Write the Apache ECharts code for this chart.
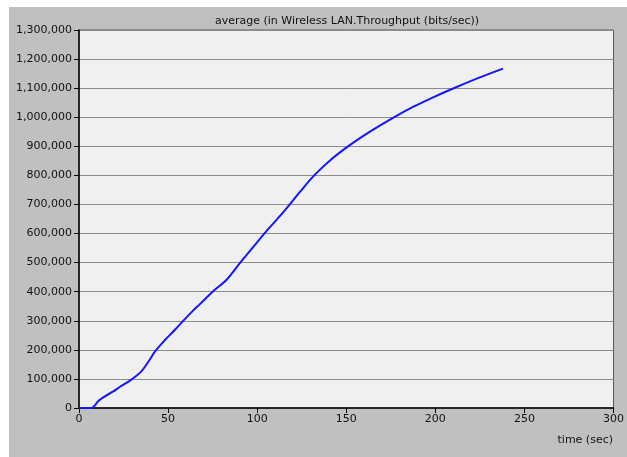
<!DOCTYPE html>
<html>
<head>
<meta charset="utf-8">
<script src="https://cdn.jsdelivr.net/npm/echarts@6/dist/echarts.min.js"></script>
<style>
  html, body { margin: 0; padding: 0; background: #ffffff; }
  #chart { width: 627px; height: 457px; }
</style>
</head>
<body>
<div id="chart"></div>
<script>
// Average wireless LAN throughput over simulated time
const timeSec = [0, 7, 11, 15, 19, 23, 29, 35, 39, 43, 48, 54, 59, 64, 68, 75, 83, 90.5, 97, 104, 111, 116, 124, 132, 142, 152, 164, 176, 188, 200, 212, 225, 238];
const throughput = [0, 0, 25000, 42000, 56000, 73000, 96000, 126000, 160000, 197000, 232000, 270000, 303000, 335000, 358000, 400000, 442000, 500000, 548000, 600000, 648000, 683000, 743000, 800000, 857000, 904000, 953000, 997000, 1037000, 1072000, 1104000, 1137000, 1167000];
const titleText = 'average (in Wireless LAN.Throughput (bits/sec))';
const xAxisTitle = 'time (sec)';

const points = timeSec.map((t, i) => [t, throughput[i]]);
const font = 'DejaVu Sans';

const chart = echarts.init(document.getElementById('chart'), null, { renderer: 'canvas' });
chart.setOption({
  animation: false,
  backgroundColor: '#ffffff',
  textStyle: { fontFamily: font },
  graphic: [
    { type: 'rect', z: -10, shape: { x: 9, y: 7, width: 618, height: 450 }, style: { fill: '#c0c0c0' } },
    { type: 'text', x: 347, y: 21, style: { text: titleText, fontFamily: font, fontSize: 11, fill: '#111', align: 'center', verticalAlign: 'middle' } },
    { type: 'text', x: 613, y: 440, style: { text: xAxisTitle, fontFamily: font, fontSize: 11, fill: '#111', align: 'right', verticalAlign: 'middle' } }
  ],
  grid: {
    left: 79, top: 30, right: 12, bottom: 49,
    show: true, backgroundColor: '#f0f0f0', borderColor: '#5a5a5a', borderWidth: 1
  },
  xAxis: {
    type: 'value', min: 0, max: 300, interval: 50,
    axisLine: { show: true, onZero: false, lineStyle: { color: '#000', width: 1.5 } },
    axisTick: { show: true, length: 5, lineStyle: { color: '#000' } },
    axisLabel: { color: '#111', fontFamily: font, fontSize: 11, margin: 6 },
    splitLine: { show: false }
  },
  yAxis: {
    type: 'value', min: 0, max: 1300000, interval: 100000,
    axisLine: { show: true, onZero: false, lineStyle: { color: '#000', width: 1.5 } },
    axisTick: { show: true, length: 5, lineStyle: { color: '#000' } },
    axisLabel: {
      color: '#111', fontFamily: font, fontSize: 11, margin: 7,
      formatter: v => v.toLocaleString('en-US')
    },
    splitLine: { show: true, lineStyle: { color: '#8c8c8c', width: 1 } }
  },
  series: [{
    type: 'line',
    data: points,
    showSymbol: false,
    smooth: 0.3,
    lineStyle: { color: '#1414ff', width: 2 },
    z: 5
  }]
});
</script>
</body>
</html>
